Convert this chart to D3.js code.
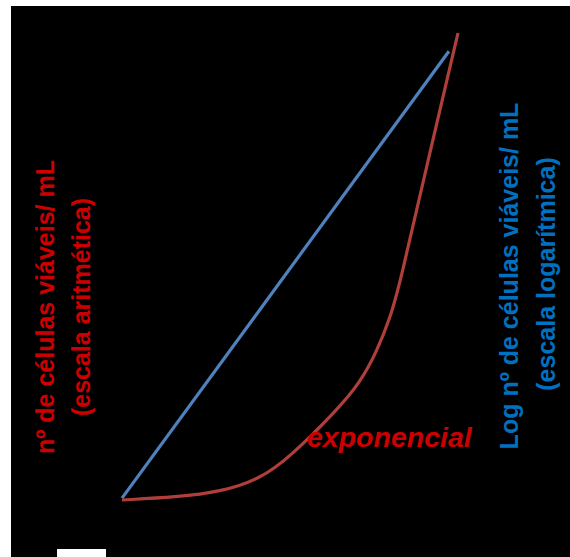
<!DOCTYPE html>
<html><head><meta charset="utf-8">
<script src="https://cdn.jsdelivr.net/npm/d3@7"></script>
<style>html,body{margin:0;padding:0;background:#fff;}svg{display:block;}</style>
</head><body>
<script>
// Data (time in arbitrary units 0..100, cell count 0..100 relative)
const timeExp = [0, 16.4, 29.2, 41.1, 50.0, 64.0, 70.8, 75.9, 79.8, 82.7, 91.1, 100];
const countArith = [0, 0.64, 1.71, 4.5, 9.21, 19.27, 25.05, 31.91, 38.97, 46.25, 72.81, 100];
const timeLog = [0, 97.3];
const countLog = [0.4, 96.1];
const leftLabel = ["nº de células viáveis/ mL", "(escala aritmética)"];
const rightLabel = ["Log nº de células viáveis/ mL", "(escala logarítmica)"];
const curveLabel = "exponencial";

const W = 570, H = 557;
const svg = d3.select("body").append("svg").attr("width", W).attr("height", H);
svg.append("rect").attr("x", 11).attr("y", 6).attr("width", W - 11).attr("height", H - 6).attr("fill", "#000");
svg.append("rect").attr("x", 57).attr("y", 549).attr("width", 49).attr("height", 8).attr("fill", "#fff");

const x = d3.scaleLinear().domain([0, 100]).range([122, 458]);
const y = d3.scaleLinear().domain([0, 100]).range([500, 33]);

svg.append("path")
  .datum(d3.zip(timeLog, countLog))
  .attr("d", d3.line().x(d => x(d[0])).y(d => y(d[1])))
  .attr("fill", "none").attr("stroke", "#4f81bd").attr("stroke-width", 3.2);

svg.append("path")
  .datum(d3.zip(timeExp, countArith))
  .attr("d", d3.line().x(d => x(d[0])).y(d => y(d[1])).curve(d3.curveBasis))
  .attr("fill", "none").attr("stroke", "#b03e3a").attr("stroke-width", 3.2);

const font = "'Liberation Sans', Arial, sans-serif";
function vtext(txt, cx, cy, color) {
  svg.append("text")
    .attr("transform", `translate(${cx},${cy}) rotate(-90)`)
    .attr("text-anchor", "middle")
    .attr("font-family", font).attr("font-weight", "bold").attr("font-size", 25)
    .attr("fill", color).text(txt);
}
vtext(leftLabel[0], 54, 307, "#cc0000");
vtext(leftLabel[1], 90, 307, "#cc0000");
vtext(rightLabel[0], 518, 276, "#0070c0");
vtext(rightLabel[1], 555, 274, "#0070c0");

svg.append("text")
  .attr("x", 307).attr("y", 447)
  .attr("font-family", font).attr("font-weight", "bold").attr("font-style", "italic").attr("font-size", 28.5)
  .attr("fill", "#cc0000").text(curveLabel);
</script>
</body></html>
